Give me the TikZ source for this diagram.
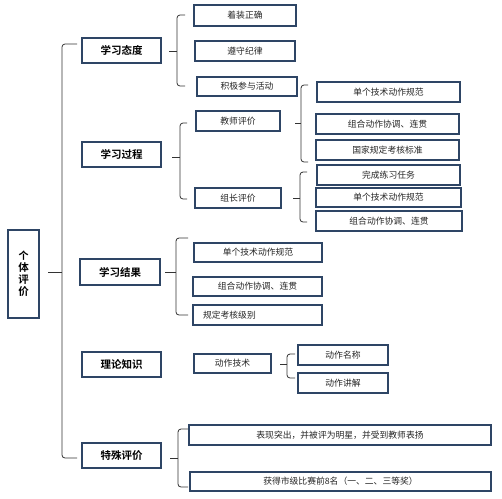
\documentclass[tikz,border=0pt]{standalone}
\usepackage{fontspec}
\setmainfont{Noto Sans CJK SC}
\newfontfamily\cjkb{Noto Sans CJK SC Bold}
\definecolor{boxc}{HTML}{2E4565}
\definecolor{brc}{HTML}{333333}
\newcommand\mybrace[7]{%
  \coordinate (#1t) at (#5,#3);
  \coordinate (#1b) at (#5,#4);
  \coordinate (#1m) at (#2,#6);
  \coordinate (#1s) at (#7,#6);
  \draw[brline,rounded corners=3pt] (#1t) -- (#2,#3) -- (#2,#4) -- (#1b);
  \draw[brline] (#1s) -- (#1m);}
\begin{document}
\begin{tikzpicture}[x=1pt,y=-1pt,
  box/.style={draw=boxc,line width=2.2pt,fill=white,inner sep=0pt,align=center},
  lvone/.style={box,font=\cjkb\fontsize{10.5}{12}\selectfont},
  lvtwo/.style={box,font=\fontsize{8.8}{10}\selectfont,text=black!85},
  brline/.style={draw=brc,line width=0.8pt}]
\useasboundingbox[fill=white] (0,0) rectangle (502,498);

% root
\node[lvone,minimum width=31pt,minimum height=88pt] (root) at (23.5,274)
  {\fontsize{10}{11}\selectfont 个\\体\\评\\价};

% level one
\node[lvone,minimum width=79pt,minimum height=25pt] (a1) at (121.5,50.5) {学习态度};
\node[lvone,minimum width=79pt,minimum height=25pt] (a2) at (121.5,154.5) {学习过程};
\node[lvone,minimum width=80pt,minimum height=26pt] (a3) at (120,272) {学习结果};
\node[lvone,minimum width=79pt,minimum height=25pt] (a4) at (121.5,364.5) {理论知识};
\node[lvone,minimum width=79pt,minimum height=25pt] (a5) at (121.5,455.5) {特殊评价};

% level two
\node[lvtwo,minimum width=102pt,minimum height=21pt] (b11) at (245,15.5) {着装正确};
\node[lvtwo,minimum width=100pt,minimum height=20pt] (b12) at (245,51) {遵守纪律};
\node[lvtwo,minimum width=100pt,minimum height=19pt] (b13) at (247,86.5) {积极参与活动};
\node[lvtwo,minimum width=84pt,minimum height=20pt] (b21) at (238,121) {教师评价};
\node[lvtwo,minimum width=86pt,minimum height=20pt] (b22) at (238,198) {组长评价};
\node[lvtwo,minimum width=128pt,minimum height=19pt] (b31) at (258,252.5) {单个技术动作规范};
\node[lvtwo,minimum width=129pt,minimum height=19pt] (b32) at (257.5,286.5) {组合动作协调、连贯};
\node[lvtwo,minimum width=129pt,minimum height=20pt,align=left,text width=109pt] (b33) at (257.5,315) {规定考核级别};
\node[lvtwo,minimum width=77pt,minimum height=19pt] (b41) at (232.5,363.5) {动作技术};
\node[lvtwo,minimum width=302pt,minimum height=20pt] (b51) at (340,435) {表现突出，并被评为明星，并受到教师表扬};
\node[lvtwo,minimum width=301pt,minimum height=19pt] (b52) at (340.5,481.5) {获得市级比赛前8名（一、二、三等奖）};

% level three
\node[lvtwo,minimum width=143pt,minimum height=20pt] (c1) at (388.5,92) {单个技术动作规范};
\node[lvtwo,minimum width=143pt,minimum height=20pt] (c2) at (387.5,124) {组合动作协调、连贯};
\node[lvtwo,minimum width=143pt,minimum height=20pt] (c3) at (387.5,150) {国家规定考核标准};
\node[lvtwo,minimum width=143pt,minimum height=20pt] (c4) at (388.5,175) {完成练习任务};
\node[lvtwo,minimum width=145pt,minimum height=19pt] (c5) at (388.5,197.5) {单个技术动作规范};
\node[lvtwo,minimum width=146pt,minimum height=20pt] (c6) at (389,221) {组合动作协调、连贯};
\node[lvtwo,minimum width=90pt,minimum height=20pt] (d1) at (343,355) {动作名称};
\node[lvtwo,minimum width=90pt,minimum height=20pt] (d2) at (343,383) {动作讲解};

% braces: name, x, top, bottom, endx, ticky, tickx
\mybrace{m}{62}{44}{458}{77}{272}{48}
\mybrace{ba}{177}{15}{86}{185}{51}{169}
\mybrace{bb}{180}{123}{199}{187}{157}{172}
\mybrace{bc}{301}{85}{162}{308}{123}{295}
\mybrace{bd}{300}{172}{222}{307}{198}{293}
\mybrace{be}{176}{238}{315}{188}{272}{165}
\mybrace{bf}{287}{354}{378}{295}{364}{280}
\mybrace{bg}{178}{429}{487}{188}{458}{170}
\end{tikzpicture}
\end{document}
